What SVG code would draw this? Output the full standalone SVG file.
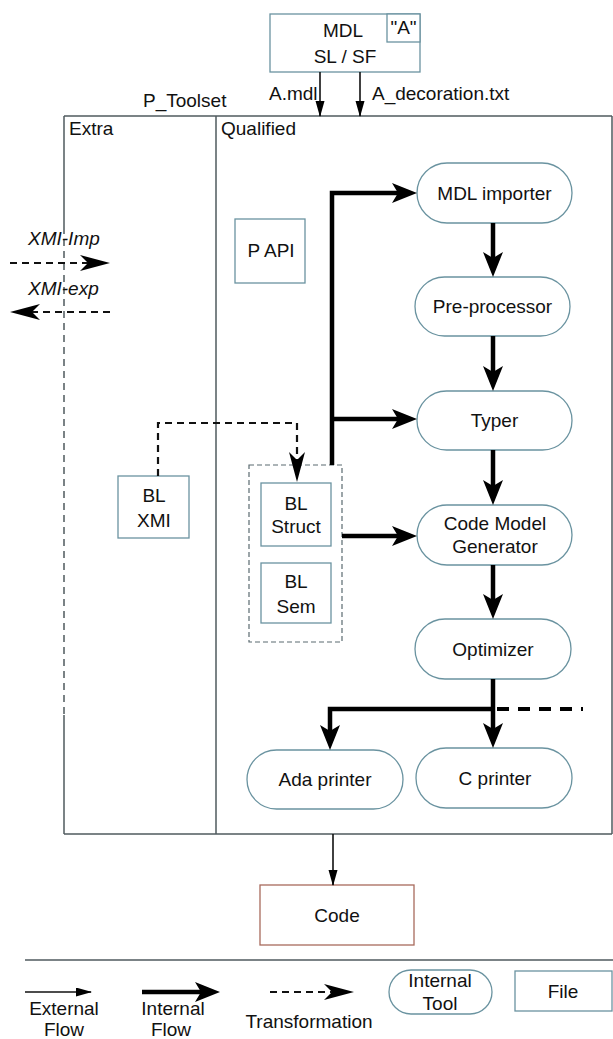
<svg xmlns="http://www.w3.org/2000/svg" width="613" height="1039" viewBox="0 0 613 1039">
<style>
text{font-family:"Liberation Sans",Arial,sans-serif;font-size:19px;fill:#111;}
.c{text-anchor:middle;}
.it{font-style:italic;}
.node{fill:#fff;stroke:#6a93a0;stroke-width:1.3;}
.code{fill:#fff;stroke:#a86a5c;stroke-width:1.3;}
.frame{fill:none;stroke:#4f5a5e;stroke-width:1.5;}
.thin{fill:none;stroke:#111;stroke-width:1.6;}
.thick{fill:none;stroke:#000;stroke-width:4.5;}
.dash{fill:none;stroke:#111;stroke-width:2.2;stroke-dasharray:7,5;}
.tdash{fill:none;stroke:#000;stroke-width:4;stroke-dasharray:12,9;}
.cont{fill:none;stroke:#5a6a70;stroke-width:1.2;stroke-dasharray:5,3;}
</style>
<defs>
<marker id="ah" markerUnits="userSpaceOnUse" markerWidth="26" markerHeight="20" refX="15" refY="10" orient="auto" viewBox="0 0 26 20">
<path d="M0,0 L25,10 L0,20 L6,10 z" fill="#000"/>
</marker>
<marker id="ad" markerUnits="userSpaceOnUse" markerWidth="31" markerHeight="17" refX="20" refY="8" orient="auto" viewBox="0 0 31 17">
<path d="M0,0 L30,8 L0,16 L8,8 z" fill="#000"/>
</marker>
<marker id="at" markerUnits="userSpaceOnUse" markerWidth="17" markerHeight="10" refX="15" refY="4.5" orient="auto" viewBox="0 0 17 10">
<path d="M0,0 L16,4.5 L0,9 z" fill="#000"/>
</marker>
</defs>

<g id="frame">
<line class="frame" x1="64" y1="116" x2="612" y2="116"/>
<line class="frame" x1="64" y1="834" x2="612" y2="834"/>
<line class="frame" x1="612" y1="116" x2="612" y2="834"/>
<line class="frame" x1="216" y1="116" x2="216" y2="834"/>
<line class="frame" x1="64" y1="116" x2="64" y2="227"/>
<line class="frame" x1="64" y1="227" x2="64" y2="715" stroke-dasharray="7,5" stroke="#222" stroke-width="2"/>
<line class="frame" x1="64" y1="715" x2="64" y2="834"/>
<text x="143" y="107">P_Toolset</text>
<text x="69" y="135">Extra</text>
<text x="221" y="135">Qualified</text>
</g>

<g id="mdl">
<rect class="node" x="270" y="14" width="150" height="58"/>
<rect class="node" x="387" y="14" width="33" height="28"/>
<text class="c" x="403.5" y="34">"A"</text>
<text class="c" x="343" y="37">MDL</text>
<text class="c" x="345" y="63">SL / SF</text>
</g>

<g id="papi">
<rect class="node" x="235" y="219" width="70" height="64"/>
<text class="c" x="271" y="257">P API</text>
</g>

<g id="mdl-importer">
<rect class="node" x="417" y="163" width="155" height="60" rx="30"/>
<text class="c" x="494.5" y="199.5">MDL importer</text>
</g>
<g id="pre-processor">
<rect class="node" x="415" y="277" width="155" height="59" rx="29.5"/>
<text class="c" x="492.5" y="313">Pre-processor</text>
</g>
<g id="typer">
<rect class="node" x="417" y="391" width="155" height="59" rx="29.5"/>
<text class="c" x="494.5" y="427">Typer</text>
</g>
<g id="cmg">
<rect class="node" x="417" y="505" width="155" height="60" rx="30"/>
<text class="c" x="495" y="530">Code Model</text>
<text class="c" x="495" y="553">Generator</text>
</g>
<g id="optimizer">
<rect class="node" x="415" y="619" width="156" height="60" rx="30"/>
<text class="c" x="493" y="656">Optimizer</text>
</g>
<g id="ada-printer">
<rect class="node" x="247" y="750" width="156" height="59" rx="29.5"/>
<text class="c" x="325" y="786">Ada printer</text>
</g>
<g id="c-printer">
<rect class="node" x="416" y="748" width="156" height="60" rx="30"/>
<text class="c" x="495" y="785">C printer</text>
</g>

<g id="bl-xmi">
<rect class="node" x="118" y="476" width="71" height="62"/>
<text class="c" x="154" y="502">BL</text>
<text class="c" x="154" y="527">XMI</text>
</g>
<g id="bl-container">
<rect class="cont" x="249" y="465" width="93" height="177"/>
</g>
<g id="bl-struct">
<rect class="node" x="261" y="483" width="70" height="63"/>
<text class="c" x="296" y="510">BL</text>
<text class="c" x="296" y="533">Struct</text>
</g>
<g id="bl-sem">
<rect class="node" x="261" y="563" width="70" height="60"/>
<text class="c" x="296" y="588">BL</text>
<text class="c" x="296" y="613">Sem</text>
</g>

<g id="code">
<rect class="code" x="260" y="885" width="154" height="60"/>
<text class="c" x="337" y="922">Code</text>
</g>

<g id="connectors">
<path class="thin" d="M320,72 V116" marker-end="url(#at)"/>
<path class="thin" d="M360,72 V116" marker-end="url(#at)"/>
<path class="thin" d="M333,834 V885" marker-end="url(#at)"/>
<path class="thick" d="M332,465 V193 H407" marker-end="url(#ah)"/>
<path class="thick" d="M332,419 H407" marker-end="url(#ah)"/>
<path class="thick" d="M342,536 H407" marker-end="url(#ah)"/>
<path class="thick" d="M493,223 V267" marker-end="url(#ah)"/>
<path class="thick" d="M493,336 V381" marker-end="url(#ah)"/>
<path class="thick" d="M493,450 V495" marker-end="url(#ah)"/>
<path class="thick" d="M493,565 V609" marker-end="url(#ah)"/>
<path class="thick" d="M493,679 V738" marker-end="url(#ah)"/>
<path class="thick" d="M493,709 H330 V740" marker-end="url(#ah)"/>
<path class="tdash" d="M497,709 H583"/>
<path class="dash" d="M158,476 V423 H297 V472" marker-end="url(#ad)"/>
<path class="dash" d="M10,263 H100" marker-end="url(#ad)"/>
<path class="dash" d="M110,312 H20" marker-end="url(#ad)"/>
<text class="it" x="28" y="245">XMI-Imp</text>
<text class="it" x="28" y="295">XMI-exp</text>
<text x="269" y="100">A.mdl</text>
<text x="372" y="100">A_decoration.txt</text>
</g>

<g id="legend">
<line x1="25" y1="960" x2="613" y2="960" stroke="#4f5a5e" stroke-width="1.5"/>
<path class="thin" d="M25,992 H91" marker-end="url(#at)"/>
<text class="c" x="64" y="1015">External</text>
<text class="c" x="64" y="1036">Flow</text>
<path class="thick" d="M142,992 H210" marker-end="url(#ah)"/>
<text class="c" x="173" y="1015">Internal</text>
<text class="c" x="171" y="1036">Flow</text>
<path class="dash" d="M270,992 H344" marker-end="url(#ad)"/>
<text class="c" x="309" y="1028">Transformation</text>
<rect class="node" x="389" y="970" width="103" height="44" rx="22"/>
<text class="c" x="440" y="987">Internal</text>
<text class="c" x="440" y="1010">Tool</text>
<rect class="node" x="515" y="971" width="97" height="40"/>
<text class="c" x="563" y="998">File</text>
</g>
</svg>
